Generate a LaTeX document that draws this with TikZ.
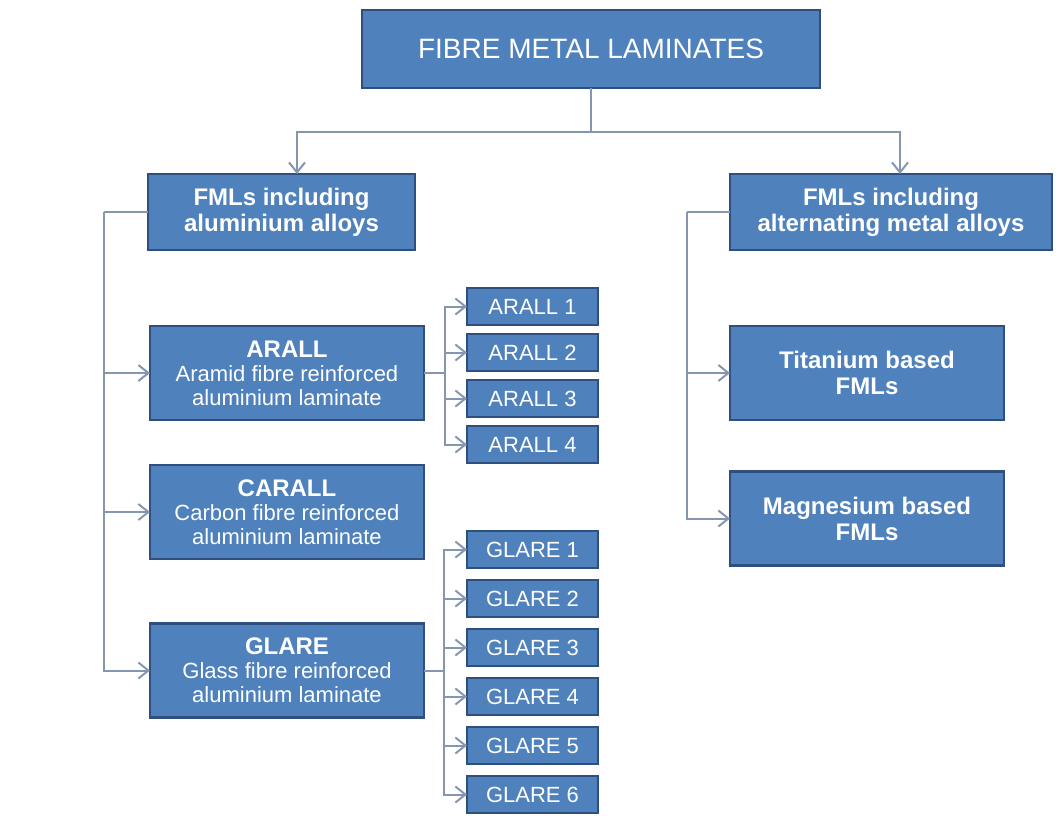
\documentclass[tikz,border=0pt]{standalone}
\usepackage{fontspec}
\setsansfont{Liberation Sans}
\usetikzlibrary{positioning,arrows.meta}
\definecolor{fmlfill}{HTML}{4F81BD}
\definecolor{fmldraw}{HTML}{2F4F7F}
\definecolor{linkgray}{HTML}{8496B0}
\tikzset{
  fml node/.style={
    draw=fmldraw,
    fill=fmlfill,
    text=white,
    line width=1.2pt,
    inner sep=0pt,
    outer sep=0pt,
    align=center,
    font=\sffamily,
  },
  head node/.style={
    fml node,
    minimum width=229pt,
    minimum height=39pt,
    font=\sffamily\fontsize{14}{16}\selectfont,
  },
  group node/.style={
    fml node,
    minimum height=38pt,
    font=\sffamily\bfseries\fontsize{12}{13}\selectfont,
  },
  type node/.style={
    fml node,
    minimum width=137pt,
    minimum height=47pt,
    font=\sffamily\fontsize{11}{12}\selectfont,
  },
  metal node/.style={
    type node,
    font=\sffamily\bfseries\fontsize{12}{13}\selectfont,
  },
  grade node/.style={
    fml node,
    minimum width=65.5pt,
    minimum height=18.5pt,
    font=\sffamily\fontsize{11}{12}\selectfont,
  },
  link/.style={
    linkgray,
    line width=1pt,
  },
  arrow link/.style={
    link,
    -{Straight Barb[length=5pt,width=8pt]},
  },
}

\begin{document}
\begin{tikzpicture}

  \useasboundingbox (0,0) rectangle (530pt,-407.5pt);

  % --- Root ---
  \node[head node] (fml) at (295.5pt,-24.5pt) {FIBRE METAL LAMINATES};

  % --- Groups ---
  \node[group node, minimum width=133.5pt, below=43pt of fml, xshift=-154.75pt] (alu) {FMLs including\\aluminium alloys};
  \node[group node, minimum width=161pt, right=157.5pt of alu] (alt) {FMLs including\\alternating metal alloys};

  % --- Aluminium based types ---
  \node[type node, below=38pt of alu.south west, anchor=north west, xshift=1pt] (arall)
    {\textbf{\fontsize{12}{13}\selectfont ARALL}\\Aramid fibre reinforced\\aluminium laminate};
  \node[type node, below=22.5pt of arall] (carall)
    {\textbf{\fontsize{12}{13}\selectfont CARALL}\\Carbon fibre reinforced\\aluminium laminate};
  \node[type node, below=32.25pt of carall] (glare)
    {\textbf{\fontsize{12}{13}\selectfont GLARE}\\Glass fibre reinforced\\aluminium laminate};

  % --- Other metal types ---
  \node[metal node, below=38pt of alt.south west, anchor=north west] (titan) {Titanium based\\FMLs};
  \node[metal node, below=25.75pt of titan] (magnes) {Magnesium based\\FMLs};

  % --- Grades ---
  \node[grade node, right=21.5pt of arall.north east, anchor=north west, yshift=19pt] (arall1) {ARALL 1};
  \foreach \i [count=\j from 2] in {1,2,3}
    \node[grade node, below=4.5pt of arall\i] (arall\j) {ARALL \j};
  \node[grade node, below=34pt of arall4] (glare1) {GLARE 1};
  \foreach \i [count=\j from 2] in {1,...,5}
    \node[grade node, below=6pt of glare\i] (glare\j) {GLARE \j};

  % --- Connections: root -> groups ---
  \draw[link] (fml.south) -- ++(0,-22pt) coordinate (split);
  \draw[arrow link] (split) -| ([xshift=7.75pt]alu.north);
  \draw[arrow link] (split) -| ([xshift=4.5pt]alt.north);

  % --- Connections: groups -> types ---
  \coordinate[left=22pt of alu.west] (alutrunk);
  \draw[link] (alu.west) -- (alutrunk);
  \foreach \t in {arall,carall,glare}
    \draw[arrow link] (alutrunk) |- (\t.west);

  \coordinate[left=21.5pt of alt.west] (alttrunk);
  \draw[link] (alt.west) -- (alttrunk);
  \foreach \t in {titan,magnes}
    \draw[arrow link] (alttrunk) |- (\t.west);

  % --- Connections: types -> grades ---
  \coordinate[right=10.5pt of arall.east] (arallfork);
  \draw[link] (arall.east) -- (arallfork);
  \foreach \i in {1,...,4}
    \draw[arrow link] (arallfork) |- (arall\i.west);

  \coordinate[right=10pt of glare.east] (glarefork);
  \draw[link] (glare.east) -- (glarefork);
  \foreach \i in {1,...,6}
    \draw[arrow link] (glarefork) |- (glare\i.west);

\end{tikzpicture}
\end{document}
